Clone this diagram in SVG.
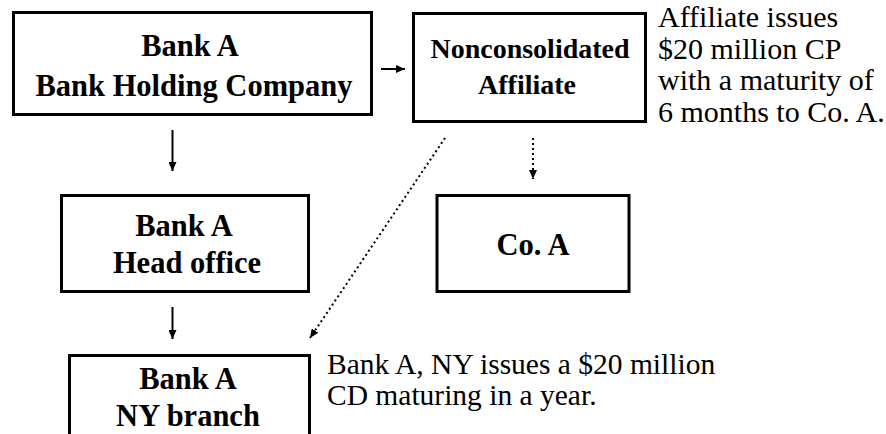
<svg xmlns="http://www.w3.org/2000/svg" width="886" height="434" viewBox="0 0 886 434">
<style>
.box{fill:#fff;stroke:#000;stroke-width:3}
.bt{font-family:'Liberation Serif','Times New Roman',serif;font-weight:bold;font-size:30.5px;text-anchor:middle;fill:#000}
.nt{font-family:'Liberation Serif','Times New Roman',serif;font-size:29.5px;fill:#000}
.solid{stroke:#000;stroke-width:2;fill:none}
.dot{stroke:#000;stroke-width:2;fill:none;stroke-dasharray:2 3}
</style>
<defs>
<marker id="ah" markerUnits="userSpaceOnUse" markerWidth="9" markerHeight="8" refX="9" refY="4" orient="auto">
<path d="M0,0 L9,4 L0,8 z" fill="#000"/>
</marker>
</defs>
<rect width="886" height="434" fill="#fff"/>
<g id="connectors">
<line class="solid" x1="381" y1="69" x2="405" y2="69" marker-end="url(#ah)"/>
<line class="solid" x1="172.5" y1="130" x2="172.5" y2="171" marker-end="url(#ah)"/>
<line class="solid" x1="172.5" y1="307" x2="172.5" y2="339" marker-end="url(#ah)"/>
<line class="dot" x1="533" y1="138" x2="533" y2="179" marker-end="url(#ah)"/>
<line class="dot" x1="445" y1="138" x2="310" y2="338" marker-end="url(#ah)"/>
</g>
<g id="bhc">
<rect class="box" x="13.5" y="12.5" width="358" height="102"/>
<text class="bt" x="190" y="56">Bank A</text>
<text class="bt" x="194" y="96">Bank Holding Company</text>
</g>
<g id="affiliate">
<rect class="box" x="413.5" y="13.5" width="232" height="108"/>
<text class="bt" x="530" y="58" style="font-size:28px">Nonconsolidated</text>
<text class="bt" x="527" y="94" style="font-size:28px">Affiliate</text>
</g>
<g id="headoffice">
<rect class="box" x="61.5" y="195.5" width="247" height="96"/>
<text class="bt" x="184" y="236">Bank A</text>
<text class="bt" x="187" y="272.5">Head office</text>
</g>
<g id="coa">
<rect class="box" x="437" y="195.5" width="192" height="96"/>
<text class="bt" x="533" y="255">Co. A</text>
</g>
<g id="nybranch">
<rect class="box" x="69.5" y="355.5" width="240" height="90"/>
<text class="bt" x="188" y="388.5">Bank A</text>
<text class="bt" x="188" y="426">NY branch</text>
</g>
<g id="note-cp">
<text class="nt" x="658" y="27" style="font-size:30px">Affiliate issues</text>
<text class="nt" x="658" y="58.5" style="font-size:30px">$20 million CP</text>
<text class="nt" x="658" y="90" style="font-size:30px">with a maturity of</text>
<text class="nt" x="658" y="121.5" style="font-size:30px">6 months to Co. A.</text>
</g>
<g id="note-cd">
<text class="nt" x="327" y="374">Bank A, NY issues a $20 million</text>
<text class="nt" x="327" y="405">CD maturing in a year.</text>
</g>
</svg>
